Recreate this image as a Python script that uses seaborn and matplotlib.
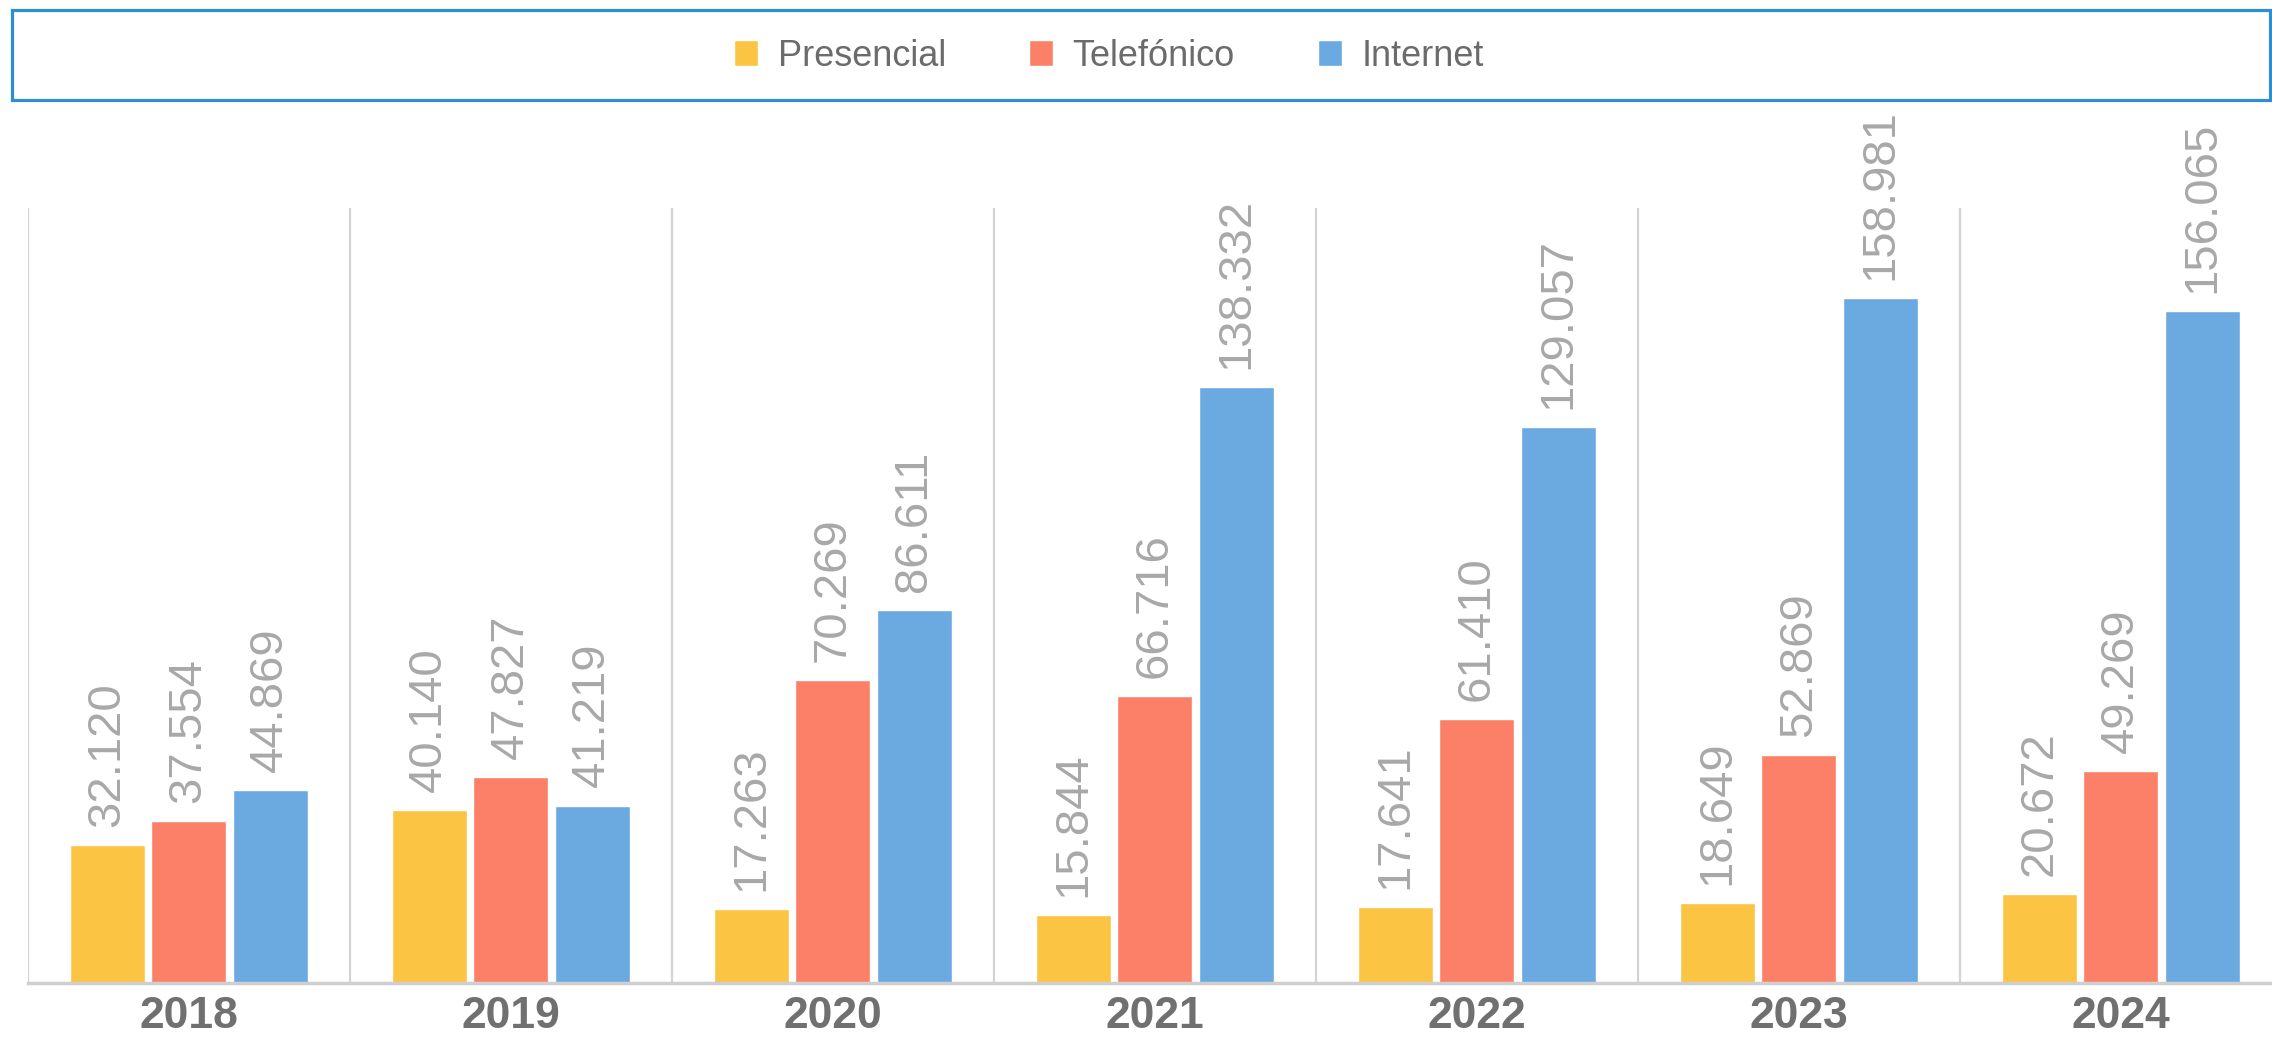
import numpy as np
import pandas as pd
import seaborn as sns
import matplotlib.pyplot as plt
from matplotlib.patches import Rectangle

#datos
years = ['2018', '2019', '2020', '2021', '2022', '2023', '2024']
canales = ['Presencial', 'Telefónico', 'Internet']
presencial = [32120, 40140, 17263, 15844, 17641, 18649, 20672]
telefonico = [37554, 47827, 70269, 66716, 61410, 52869, 49269]
internet = [44869, 41219, 86611, 138332, 129057, 158981, 156065]

colores = {'Presencial': '#FBC443', 'Telefónico': '#FC7F67', 'Internet': '#6AAAE0'}

df = pd.DataFrame({
    'year': years * 3,
    'canal': [c for c in canales for _ in years],
    'valor': presencial + telefonico + internet,
})

sns.set_theme(style='white')
plt.rcParams['font.family'] = ['Liberation Sans Narrow', 'Liberation Sans', 'DejaVu Sans']

fig = plt.figure(figsize=(22.72, 10.4), dpi=100)
ax = fig.add_axes([27.7 / 2272, 57 / 1040, 7 * 322 / 2272, 775 / 1040])

sns.barplot(data=df, x='year', y='valor', hue='canal', order=years, hue_order=canales,
            palette=colores, saturation=1, width=0.76, gap=0.08, ax=ax)

ax.set_xlim(-0.5, 6.5)
ax.set_ylim(0, 180000)
ax.set_xlabel('')
ax.set_ylabel('')
ax.set_yticks([])

# separadores verticales
for x in np.arange(-0.5, 7, 1):
    ax.axvline(x, color='#D3D3D3', lw=1.6, zorder=0)

for s in ['top', 'right', 'left']:
    ax.spines[s].set_visible(False)
ax.spines['bottom'].set_color('#CFCFCF')
ax.spines['bottom'].set_linewidth(2.5)

ax.tick_params(axis='x', length=0, pad=9)
ax.set_xticks(range(len(years)))
ax.set_xticklabels(years, fontsize=32, fontweight='bold', color='#707070')

for cont in ax.containers:
    etiquetas = [f'{int(b.get_height()):,}'.replace(',', '.') for b in cont]
    ax.bar_label(cont, labels=etiquetas, padding=13, rotation=90, fontsize=34,
                 color='#A8A8A8', clip_on=False)

handles, labels = ax.get_legend_handles_labels()
ax.legend_.remove()

# caja de la leyenda
fig.patches.append(Rectangle((12 / 2272, 940 / 1040), 2258 / 2272, 90 / 1040,
                             transform=fig.transFigure, facecolor='white',
                             edgecolor='#2B8FD1', lw=2.3))
leg = fig.legend(handles, labels, loc='center', bbox_to_anchor=(1109 / 2272, 1 - 56 / 1040),
                 ncol=3, frameon=False, fontsize=26, handlelength=0.66, handleheight=0.75,
                 handletextpad=0.55, columnspacing=2.3)
for t in leg.get_texts():
    t.set_color('#6B6B6B')

fig.savefig('out.png', dpi=100)
